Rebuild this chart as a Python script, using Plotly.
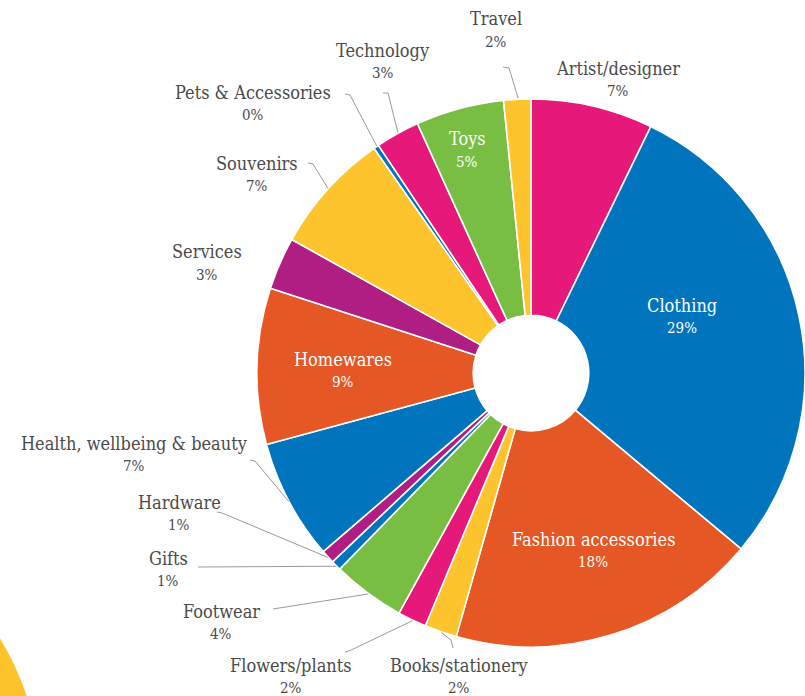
import math
import plotly.graph_objects as go

# Share of stockists by category (percent of total), clockwise from 12 o'clock
categories = [
    "Artist/designer", "Clothing", "Fashion accessories", "Books/stationery",
    "Flowers/plants", "Footwear", "Gifts", "Hardware",
    "Health, wellbeing & beauty", "Homewares", "Services", "Souvenirs",
    "Pets & Accessories", "Technology", "Toys", "Travel",
]
shares = [7.2, 28.9, 18.3, 1.9, 1.7, 4.3, 0.6, 0.8, 7.1, 9.2, 3.1, 7.2, 0.3, 2.6, 5.2, 1.6]

PINK, BLUE, ORANGE, YELLOW = "#e6187a", "#0075bd", "#e55725", "#fdc42e"
GREEN, PURPLE = "#78be43", "#b01e84"
slice_colors = [PINK, BLUE, ORANGE, YELLOW, PINK, GREEN, BLUE, PURPLE,
                BLUE, ORANGE, PURPLE, YELLOW, BLUE, PINK, GREEN, YELLOW]

W, H = 805, 696
CX, CY, R = 532, 373, 275          # pie centre and radius in pixels
HOLE = 58 / R

FONT = "DejaVu Serif Condensed, DejaVu Serif, serif"
TEXT_DARK = "#4a4a4a"
LINE_GREY = "#9a9a9a"

# Label placement (pixel centre of the category name), inside flag,
# and leader-line waypoints from the label towards the slice edge.
label_layout = {
    "Artist/designer": dict(pos=(618, 68), inside=False, leader=None),
    "Clothing": dict(pos=(682, 305), inside=True, leader=None),
    "Fashion accessories": dict(pos=(593, 539), inside=True, leader=None),
    "Books/stationery": dict(pos=(459, 665), inside=False, leader=[(453, 648), (451, 640)]),
    "Flowers/plants": dict(pos=(291, 665), inside=False, leader=[(345, 652), (349, 651)]),
    "Footwear": dict(pos=(221, 611), inside=False, leader=[(273, 609)]),
    "Gifts": dict(pos=(168, 558), inside=False, leader=[(198, 567)]),
    "Hardware": dict(pos=(179, 502), inside=False, leader=[(217, 512), (222, 513)]),
    "Health, wellbeing & beauty": dict(pos=(134, 443), inside=False, leader=[(250, 460), (255, 461)]),
    "Homewares": dict(pos=(343, 359), inside=True, leader=None),
    "Services": dict(pos=(207, 252), inside=False, leader=None),
    "Souvenirs": dict(pos=(257, 163), inside=False, leader=[(308, 163), (313, 164)]),
    "Pets & Accessories": dict(pos=(253, 92), inside=False, leader=[(345, 94), (350, 95)]),
    "Technology": dict(pos=(383, 50), inside=False, leader=[(383, 93), (388, 93)]),
    "Toys": dict(pos=(467, 139), inside=True, leader=None),
    "Travel": dict(pos=(496, 19), inside=False, leader=[(503, 67), (509, 68)]),
}


def px(x):
    return x / W


def py(y):
    return 1 - y / H


fig = go.Figure()

fig.add_trace(go.Pie(
    labels=categories,
    values=shares,
    sort=False,
    direction="clockwise",
    rotation=0,
    hole=HOLE,
    marker=dict(colors=slice_colors, line=dict(color="white", width=1.6)),
    textinfo="none",
    hovertemplate="%{label}: %{percent:.0%}<extra></extra>",
    domain=dict(x=[px(CX - R), min(1.0, px(CX + R))], y=[py(CY + R), py(CY - R)]),
    showlegend=False,
))

shapes = []
# decorative disc in the lower-left corner
shapes.append(dict(type="circle", xref="paper", yref="paper",
                   x0=px(-540), x1=px(42), y0=py(1080), y1=py(498),
                   fillcolor=YELLOW, line=dict(width=0), layer="below"))

annotations = []
total = sum(shares)
cum = 0.0
for name, val in zip(categories, shares):
    mid = (cum + val / 2) / total * 2 * math.pi
    cum += val
    spec = label_layout[name]
    lx, ly = spec["pos"]
    color = "white" if spec["inside"] else TEXT_DARK
    pct = f"{round(val / total * 100):d}%"
    annotations.append(dict(x=px(lx), y=py(ly), xref="paper", yref="paper",
                            text=name, showarrow=False, xanchor="center", yanchor="middle",
                            font=dict(family=FONT, size=18, color=color)))
    annotations.append(dict(x=px(lx), y=py(ly + 23), xref="paper", yref="paper",
                            text=pct, showarrow=False, xanchor="center", yanchor="middle",
                            font=dict(family=FONT, size=15, color=color)))
    if spec["leader"]:
        ex, ey = CX + R * math.sin(mid), CY - R * math.cos(mid)
        pts = list(spec["leader"]) + [(ex, ey)]
        path = "M " + " L ".join(f"{px(x):.5f},{py(y):.5f}" for x, y in pts)
        shapes.append(dict(type="path", xref="paper", yref="paper", path=path,
                           line=dict(color=LINE_GREY, width=1)))

fig.update_layout(
    width=W, height=H,
    margin=dict(l=0, r=0, t=0, b=0),
    paper_bgcolor="white", plot_bgcolor="white",
    shapes=shapes, annotations=annotations,
)

fig.write_html("out.html")
